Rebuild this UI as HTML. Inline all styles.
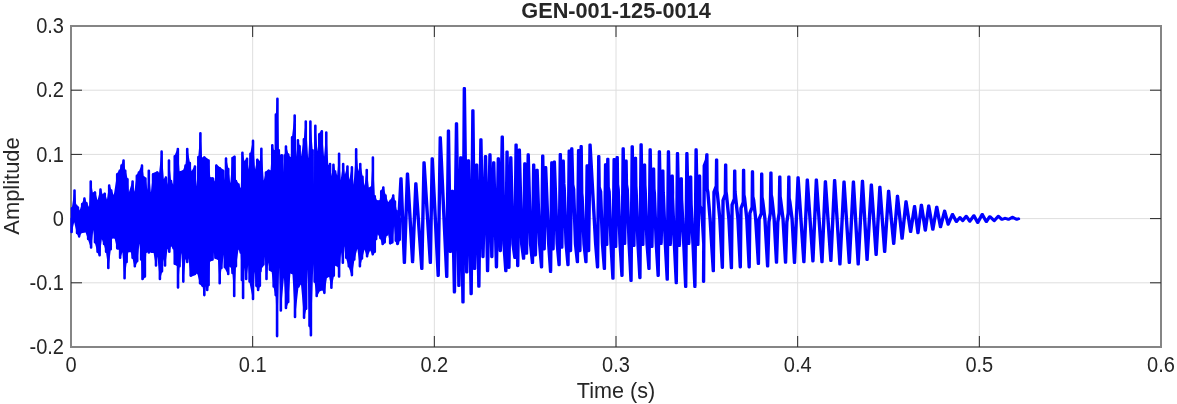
<!DOCTYPE html>
<html lang="en"><head><meta charset="utf-8"><title>GEN-001-125-0014</title>
<style>html,body{margin:0;padding:0;background:#fff;}body{width:1177px;height:404px;overflow:hidden;}svg{display:block;}text{font-family:"Liberation Sans",Arial,Helvetica,sans-serif;fill:#262626;}.tk{font-size:21.33px;}.lb{font-size:21.6px;}.tt{font-size:22.4px;font-weight:bold;}</style></head><body>
<svg width="1177" height="404" viewBox="0 0 1177 404">
<rect width="1177" height="404" fill="#fff"/>
<path d="M71.00 26.00V347.00M252.67 26.00V347.00M434.33 26.00V347.00M616.00 26.00V347.00M797.67 26.00V347.00M979.33 26.00V347.00M1161.00 26.00V347.00M71.00 347.00H1161.00M71.00 282.80H1161.00M71.00 218.60H1161.00M71.00 154.40H1161.00M71.00 90.20H1161.00M71.00 26.00H1161.00" stroke="#dedede" stroke-width="1" fill="none"/>
<rect x="71.00" y="26.00" width="1090.00" height="321.00" fill="none" stroke="#858585" stroke-width="2" shape-rendering="crispEdges"/>
<path d="M252.67 347.00v-11.00M252.67 26.00v11.00M434.33 347.00v-11.00M434.33 26.00v11.00M616.00 347.00v-11.00M616.00 26.00v11.00M797.67 347.00v-11.00M797.67 26.00v11.00M979.33 347.00v-11.00M979.33 26.00v11.00M71.00 282.80h11.00M1161.00 282.80h-11.00M71.00 218.60h11.00M1161.00 218.60h-11.00M71.00 154.40h11.00M1161.00 154.40h-11.00M71.00 90.20h11.00M1161.00 90.20h-11.00" stroke="#262626" stroke-width="1" fill="none"/>
<path d="M71.96 207.07 L74.52 189.14 L76.23 204.51 L77.93 206.22 L79.64 210.49 L82.20 202.80 L84.42 197.33 L86.47 201.95 L89.04 207.07 L90.74 180.26 L92.79 192.55 L95.01 191.36 L97.57 200.24 L100.48 188.28 L102.70 194.26 L104.75 192.55 L106.97 199.38 L109.19 184.35 L111.24 189.14 L113.80 195.11 L117.22 172.91 L119.78 169.50 L121.49 164.37 L123.54 159.25 L125.24 169.50 L127.46 178.04 L128.83 192.55 L132.59 180.26 L134.30 191.70 L136.86 174.62 L138.91 171.20 L141.98 164.37 L143.69 176.33 L145.40 177.18 L147.45 189.99 L148.81 169.50 L150.86 192.55 L153.08 172.91 L157.35 171.20 L159.06 172.91 L161.62 150.37 L163.84 178.89 L165.89 176.33 L167.60 184.87 L168.97 159.25 L171.02 179.74 L173.24 184.87 L174.77 154.98 L177.85 147.63 L179.56 171.20 L182.97 170.35 L185.53 164.37 L187.24 147.63 L189.80 161.81 L191.51 171.20 L194.93 165.23 L196.64 186.57 L198.34 155.83 L200.39 131.92 L202.10 157.54 L204.32 156.17 L208.59 159.25 L210.30 177.18 L212.86 177.18 L214.57 181.45 L216.28 164.37 L219.69 166.93 L223.11 169.50 L224.47 180.60 L226.01 157.20 L228.23 167.79 L230.28 183.16 L232.50 156.69 L234.55 155.49 L235.92 179.74 L238.48 183.16 L240.70 188.28 L242.41 151.56 L244.46 160.96 L247.02 157.54 L248.73 169.50 L250.44 152.42 L253.00 139.61 L255.05 169.50 L257.27 158.39 L259.83 160.96 L261.37 147.46 L263.76 180.60 L265.98 171.20 L268.54 169.50 L270.59 170.35 L272.30 144.05 L273.66 149.85 L274.86 158.39 L275.88 113.30 L277.42 97.42 L278.79 149.00 L280.50 154.98 L281.86 154.12 L283.06 172.06 L284.77 154.12 L285.96 145.24 L288.18 153.27 L289.89 156.69 L290.74 157.54 L292.11 136.02 L294.67 114.16 L296.38 156.69 L297.92 138.92 L299.62 144.90 L300.99 156.69 L303.89 138.07 L305.77 120.14 L308.16 158.39 L310.38 120.14 L312.60 149.00 L313.80 184.87 L315.34 124.41 L317.56 151.56 L319.27 132.95 L321.83 130.04 L324.05 156.69 L326.27 131.24 L328.32 165.23 L330.03 162.66 L331.39 176.33 L333.44 163.52 L335.15 170.35 L337.20 175.47 L339.08 152.42 L340.61 180.60 L343.18 162.66 L344.88 174.62 L347.45 165.23 L349.33 179.74 L351.89 166.08 L353.60 184.87 L356.16 147.98 L358.21 171.20 L360.26 162.66 L362.48 175.47 L364.53 185.72 L366.75 168.64 L368.80 187.43 L371.02 186.57 L372.89 156.17 L374.77 195.11 L376.99 200.24 L379.56 200.24 L381.26 189.99 L383.31 186.23 L385.53 194.26 L388.10 201.95 L390.66 199.38 L393.22 194.26 L394.93 200.24 L396.64 209.63 L398.00 216.46 L401.08 219.71 L399.71 241.06 L397.49 245.33 L395.78 241.91 L394.07 226.20 L392.37 243.62 L390.15 244.47 L388.10 234.23 L386.73 235.93 L384.68 243.62 L382.63 245.33 L380.41 239.35 L377.85 234.23 L376.14 240.20 L374.77 253.01 L372.72 255.57 L370.16 250.45 L367.09 257.62 L364.53 249.60 L361.96 259.84 L359.91 267.53 L357.35 248.74 L354.28 260.70 L351.89 276.41 L348.81 267.53 L346.25 258.99 L344.88 246.18 L342.84 264.11 L341.13 252.16 L339.08 277.78 L337.71 266.68 L335.15 265.82 L333.78 276.92 L331.39 289.05 L329.17 276.92 L326.95 277.78 L324.39 294.17 L322.34 290.42 L319.78 291.27 L316.70 297.25 L314.65 282.90 L313.29 264.11 L310.90 336.53 L309.53 327.14 L307.48 269.24 L306.11 310.06 L304.06 318.94 L300.99 284.61 L298.43 287.85 L295.01 318.26 L292.45 274.36 L290.40 273.51 L288.18 303.23 L285.96 309.20 L283.91 277.78 L280.84 311.77 L279.13 267.53 L277.08 337.39 L275.71 296.39 L273.66 287.85 L271.61 271.80 L269.91 270.95 L268.20 262.41 L266.49 280.34 L264.78 256.43 L263.42 265.82 L262.05 267.53 L260.51 272.65 L259.83 287.00 L258.12 291.27 L256.41 287.00 L254.71 271.80 L253.00 300.32 L249.58 282.90 L248.22 264.97 L246.17 280.34 L244.46 267.53 L243.09 299.30 L241.90 281.19 L240.70 253.87 L238.48 249.60 L235.92 267.53 L234.21 297.25 L232.50 274.36 L230.79 267.53 L229.60 246.18 L228.23 275.22 L224.82 268.38 L223.96 254.72 L221.40 269.24 L219.69 284.61 L217.98 259.84 L215.42 258.99 L213.71 252.16 L212.52 260.70 L209.96 261.55 L208.59 286.32 L207.22 291.27 L205.69 286.32 L204.32 296.39 L202.61 287.00 L200.05 284.61 L197.49 274.36 L196.12 258.99 L194.93 275.22 L190.66 276.92 L188.44 258.14 L187.24 263.26 L185.53 258.99 L183.31 282.90 L181.26 253.01 L179.56 267.53 L178.02 288.71 L176.99 265.82 L174.77 264.97 L173.58 249.60 L171.02 246.18 L169.31 253.01 L167.60 248.74 L165.04 266.68 L163.33 258.99 L161.96 272.65 L159.91 280.34 L157.35 256.43 L155.99 266.68 L153.60 253.01 L151.37 253.01 L150.18 237.64 L148.81 253.87 L147.45 243.62 L146.25 253.01 L144.88 277.78 L142.49 280.34 L141.13 260.70 L139.42 243.62 L137.20 262.41 L134.81 267.53 L132.59 258.99 L130.88 252.16 L128.32 252.16 L126.61 263.26 L124.56 279.49 L122.34 252.16 L120.12 258.99 L118.92 249.60 L117.22 249.60 L114.65 238.50 L112.09 238.50 L110.73 250.45 L108.33 269.24 L106.11 253.01 L104.06 245.33 L101.84 239.35 L99.62 256.43 L97.57 253.01 L95.01 243.62 L93.30 229.96 L91.08 248.74 L88.18 240.20 L85.62 232.52 L81.35 233.37 L79.13 237.64 L77.08 234.23 L74.18 222.27 L71.61 233.37Z" fill="#0000ff" stroke="none"/>
<path d="M71.96 218.60V208.37M74.52 218.60V190.44M76.23 218.60V205.81M77.93 218.60V207.52M82.20 218.60V204.10M84.42 218.60V198.63M86.47 218.60V203.25M90.74 218.60V181.56M95.01 218.60V192.66M100.48 218.60V189.58M104.75 218.60V193.85M109.19 218.60V185.65M111.24 218.60V190.44M117.22 218.60V174.21M119.78 218.60V170.80M121.49 218.60V165.67M123.54 218.60V160.55M125.24 218.60V170.80M127.46 218.60V179.34M132.59 218.60V181.56M136.86 218.60V175.92M138.91 218.60V172.50M141.98 218.60V165.67M143.69 218.60V177.63M145.40 218.60V178.48M148.81 218.60V170.80M153.08 218.60V174.21M157.35 218.60V172.50M161.62 218.60V151.67M165.89 218.60V177.63M168.97 218.60V160.55M171.02 218.60V181.04M174.77 218.60V156.28M177.85 218.60V148.93M182.97 218.60V171.65M185.53 218.60V165.67M187.24 218.60V148.93M189.80 218.60V163.11M194.93 218.60V166.53M198.34 218.60V157.13M200.39 218.60V133.22M204.32 218.60V157.47M208.59 218.60V160.55M210.30 218.60V178.48M212.86 218.60V178.48M216.28 218.60V165.67M219.69 218.60V168.23M223.11 218.60V170.80M226.01 218.60V158.50M228.23 218.60V169.09M232.50 218.60V157.99M234.55 218.60V156.79M235.92 218.60V181.04M238.48 218.60V184.46M242.41 218.60V152.86M247.02 218.60V158.84M250.44 218.60V153.72M253.00 218.60V140.91M257.27 218.60V159.69M261.37 218.60V148.76M265.98 218.60V172.50M268.54 218.60V170.80M272.30 218.60V145.35M273.66 218.60V151.15M275.88 218.60V114.60M277.42 218.60V98.72M278.79 218.60V150.30M281.86 218.60V155.42M284.77 218.60V155.42M285.96 218.60V146.54M288.18 218.60V154.57M289.89 218.60V157.99M292.11 218.60V137.32M294.67 218.60V115.46M297.92 218.60V140.22M299.62 218.60V146.20M303.89 218.60V139.37M305.77 218.60V121.44M310.38 218.60V121.44M312.60 218.60V150.30M315.34 218.60V125.71M319.27 218.60V134.25M321.83 218.60V131.34M326.27 218.60V132.54M330.03 218.60V163.96M333.44 218.60V164.82M335.15 218.60V171.65M339.08 218.60V153.72M343.18 218.60V163.96M347.45 218.60V166.53M351.89 218.60V167.38M356.16 218.60V149.28M360.26 218.60V163.96M362.48 218.60V176.77M366.75 218.60V169.94M371.02 218.60V187.87M372.89 218.60V157.47M374.77 218.60V196.41M376.99 218.60V201.54M379.56 218.60V201.54M381.26 218.60V191.29M383.31 218.60V187.53M385.53 218.60V195.56M390.66 218.60V200.68M393.22 218.60V195.56M394.93 218.60V201.54M396.64 218.60V210.93M398.00 218.60V217.76M71.61 218.60V232.07M77.08 218.60V232.93M79.13 218.60V236.34M81.35 218.60V232.07M88.18 218.60V238.90M91.08 218.60V247.44M95.01 218.60V242.32M97.57 218.60V251.71M99.62 218.60V255.13M104.06 218.60V244.03M106.11 218.60V251.71M108.33 218.60V267.94M110.73 218.60V249.15M112.09 218.60V237.20M114.65 218.60V237.20M117.22 218.60V248.30M118.92 218.60V248.30M120.12 218.60V257.69M124.56 218.60V278.19M126.61 218.60V261.96M128.32 218.60V250.86M130.88 218.60V250.86M132.59 218.60V257.69M134.81 218.60V266.23M137.20 218.60V261.11M141.13 218.60V259.40M142.49 218.60V279.04M144.88 218.60V276.48M146.25 218.60V251.71M148.81 218.60V252.57M151.37 218.60V251.71M153.60 218.60V251.71M155.99 218.60V265.38M159.91 218.60V279.04M161.96 218.60V271.35M165.04 218.60V265.38M169.31 218.60V251.71M173.58 218.60V248.30M174.77 218.60V263.67M176.99 218.60V264.52M178.02 218.60V287.41M179.56 218.60V266.23M183.31 218.60V281.60M187.24 218.60V261.96M190.66 218.60V275.62M194.93 218.60V273.92M197.49 218.60V273.06M200.05 218.60V283.31M202.61 218.60V285.70M204.32 218.60V295.09M207.22 218.60V289.97M208.59 218.60V285.02M209.96 218.60V260.25M212.52 218.60V259.40M215.42 218.60V257.69M217.98 218.60V258.54M219.69 218.60V283.31M221.40 218.60V267.94M224.82 218.60V267.08M228.23 218.60V273.92M230.79 218.60V266.23M232.50 218.60V273.06M234.21 218.60V295.95M235.92 218.60V266.23M240.70 218.60V252.57M241.90 218.60V279.89M243.09 218.60V298.00M246.17 218.60V279.04M249.58 218.60V281.60M253.00 218.60V299.02M256.41 218.60V285.70M258.12 218.60V289.97M259.83 218.60V285.70M260.51 218.60V271.35M262.05 218.60V266.23M263.42 218.60V264.52M266.49 218.60V279.04M269.91 218.60V269.65M271.61 218.60V270.50M273.66 218.60V286.55M275.71 218.60V295.09M277.08 218.60V336.09M280.84 218.60V310.47M285.96 218.60V307.90M288.18 218.60V301.93M292.45 218.60V273.06M295.01 218.60V316.96M298.43 218.60V286.55M304.06 218.60V317.64M306.11 218.60V308.76M309.53 218.60V325.84M310.90 218.60V335.23M314.65 218.60V281.60M316.70 218.60V295.95M319.78 218.60V289.97M324.39 218.60V292.87M326.95 218.60V276.48M331.39 218.60V287.75M333.78 218.60V275.62M337.71 218.60V265.38M339.08 218.60V276.48M342.84 218.60V262.81M346.25 218.60V257.69M348.81 218.60V266.23M351.89 218.60V275.11M354.28 218.60V259.40M359.91 218.60V266.23M361.96 218.60V258.54M367.09 218.60V256.32M372.72 218.60V254.27M374.77 218.60V251.71M376.14 218.60V238.90M380.41 218.60V238.05M382.63 218.60V244.03M384.68 218.60V242.32M386.73 218.60V234.63M390.15 218.60V243.17M392.37 218.60V242.32M395.78 218.60V240.61M397.49 218.60V244.03M399.71 218.60V239.76" fill="none" stroke="#0000ff" stroke-width="2.6" stroke-linecap="round"/>
<path d="M397.21 243.12 L400.63 178.53 L404.04 262.76 L407.12 173.75 L412.24 261.91 L415.49 183.65 L421.46 268.74 L423.69 162.65 L430.00 262.76 L431.88 158.55 L437.86 275.57 L439.91 137.59 L446.40 276.77 L448.11 130.76 L449.99 251.66 L452.04 191.00 L454.09 292.14 L456.14 123.58 L458.53 285.65 L460.41 157.52 L462.63 302.22 L463.99 88.40 L466.38 272.16 L468.09 160.60 L470.82 293.85 L472.53 110.60 L474.24 268.74 L476.29 164.87 L478.51 286.50 L480.56 139.64 L482.61 256.79 L485.17 156.33 L487.22 270.96 L489.61 154.67 L491.49 256.79 L493.37 162.65 L496.10 267.03 L497.98 158.55 L499.94 250.81 L501.91 136.73 L503.59 244.00 L505.49 270.96 L506.69 151.76 L508.57 267.55 L510.45 157.52 L512.64 244.00 L514.54 257.64 L515.74 144.76 L517.37 265.84 L518.99 149.89 L521.35 244.00 L523.25 258.49 L524.45 163.67 L526.16 253.37 L527.87 154.67 L530.23 244.00 L532.13 262.76 L533.33 164.87 L535.04 255.08 L536.75 169.99 L539.29 244.00 L541.19 267.03 L542.39 155.82 L543.84 249.10 L545.29 167.43 L548.34 244.00 L550.24 271.65 L551.44 162.65 L552.72 249.10 L554.00 161.96 L556.88 244.00 L558.78 264.81 L559.98 154.33 L561.43 247.39 L562.88 160.94 L563.44 183.65 L563.86 188.30 L565.76 244.00 L567.66 264.81 L568.86 150.91 L570.14 250.81 L571.42 148.69 L572.33 184.51 L573.25 189.16 L575.15 244.00 L577.05 261.91 L578.25 150.40 L579.53 250.81 L580.82 146.47 L581.38 193.05 L581.79 197.70 L583.69 244.00 L585.59 261.91 L586.79 165.72 L588.25 250.81 L589.70 144.76 L595.31 244.00 L597.21 267.03 L598.41 156.33 L598.80 187.07 L600.24 191.72 L602.14 244.00 L604.04 268.74 L605.24 164.53 L606.35 244.65 L607.46 159.06 L607.81 187.07 L608.78 191.72 L610.68 244.00 L612.58 278.48 L613.78 159.40 L615.32 246.65 L616.85 157.35 L617.20 184.51 L617.83 189.16 L619.73 244.00 L621.63 275.57 L622.83 148.64 L624.28 243.65 L625.73 160.94 L626.08 184.51 L626.88 189.16 L628.78 244.00 L630.68 280.70 L631.88 146.59 L633.51 245.65 L635.13 158.04 L635.48 186.22 L635.76 190.87 L637.66 244.00 L639.56 277.79 L640.76 144.54 L642.47 244.65 L644.18 164.87 L644.53 185.36 L644.82 190.01 L646.72 244.00 L648.62 268.74 L649.82 149.67 L651.52 246.65 L653.23 168.80 L653.58 188.78 L654.04 193.43 L655.94 244.00 L657.84 275.57 L659.04 151.55 L660.75 243.65 L662.46 170.85 L662.81 192.19 L663.09 196.84 L664.99 244.00 L666.89 279.50 L668.09 151.72 L669.97 244.65 L671.85 175.97 L672.20 192.19 L672.14 196.84 L674.04 244.00 L675.94 282.92 L677.14 153.42 L679.02 245.65 L680.90 178.53 L681.25 199.88 L681.54 204.53 L683.44 244.00 L685.34 286.68 L686.54 153.42 L688.42 243.65 L690.29 176.82 L690.64 199.88 L690.76 204.53 L692.66 244.00 L694.56 286.68 L695.76 149.67 L697.47 244.65 L699.18 175.97 L699.53 205.86 L701.52 210.51 L703.42 244.00 L703.22 281.55 L703.92 165.70 L706.22 159.70 L706.52 154.62 L706.82 188.84 L707.51 192.34 L709.72 218.60 L712.96 270.96 L713.66 192.10 L715.96 186.10 L716.26 159.74 L716.56 190.55 L717.08 194.05 L719.46 218.60 L722.01 267.55 L722.71 200.20 L725.01 194.20 L725.31 164.87 L725.61 191.41 L726.13 194.91 L728.51 218.60 L731.06 267.89 L731.76 204.80 L734.06 198.80 L734.36 170.85 L734.66 191.41 L735.01 194.91 L737.56 218.60 L739.94 267.03 L740.64 208.20 L742.94 202.20 L743.24 169.99 L743.54 194.82 L744.23 198.32 L746.44 218.60 L748.82 267.03 L749.52 213.30 L751.82 207.30 L752.12 171.70 L752.42 196.53 L753.28 200.03 L755.32 218.60 L758.05 263.62 L758.75 219.30 L761.05 213.30 L761.35 173.92 L761.65 197.38 L762.34 200.88 L764.55 218.60 L767.27 266.18 L768.57 222.00 L769.97 213.00 L770.57 172.89 L770.87 194.82 L771.56 198.32 L773.77 218.60 L776.15 262.42 L777.45 222.00 L778.85 213.00 L779.45 176.82 L779.75 196.53 L780.27 200.03 L782.65 218.60 L785.20 262.42 L786.50 222.00 L787.90 213.00 L788.50 176.82 L788.80 198.24 L789.49 201.74 L791.70 218.60 L794.14 262.76 L797.72 177.68 L803.53 261.91 L806.95 179.73 L812.58 261.06 L816.00 179.73 L821.64 261.91 L825.05 181.61 L830.52 260.71 L834.27 180.24 L839.57 264.13 L843.67 181.95 L848.96 262.76 L853.06 181.95 L857.84 264.13 L862.11 181.09 L866.73 259.69 L871.00 184.85 L875.78 254.57 L879.53 187.07 L884.32 251.66 L888.25 191.00 L893.37 243.64 L897.13 196.12 L901.74 238.51 L905.67 201.59 L910.28 231.68 L914.21 206.37 L917.62 232.88 L921.04 205.00 L924.97 230.31 L928.38 205.86 L932.48 229.46 L936.41 207.05 L940.17 226.90 L944.27 210.98 L947.85 224.34 L952.15 214.30 L956.05 221.70 L959.55 217.50 L962.35 220.70 L965.95 216.20 L969.45 221.30 L973.55 215.60 L977.35 222.60 L981.85 214.30 L985.95 221.70 L989.45 216.60 L993.95 220.70 L998.05 216.20 L1001.55 219.40 L1004.75 218.20 L1008.25 219.40 L1012.15 217.20 L1016.25 219.40 L1018.15 218.80 M397.91 243.12 L401.33 178.53 L404.74 262.76 L407.82 173.75 L412.94 261.91 L416.19 183.65 L422.16 268.74 L424.39 162.65 L430.70 262.76 L432.58 158.55 L438.56 275.57 L440.61 137.59 L447.10 276.77 L448.81 130.76 L450.69 251.66 L452.74 191.00 L454.79 292.14 L456.84 123.58 L459.23 285.65 L461.11 157.52 L463.33 302.22 L464.69 88.40 L467.08 272.16 L468.79 160.60 L471.52 293.85 L473.23 110.60 L474.94 268.74 L476.99 164.87 L479.21 286.50 L481.26 139.64 L483.31 256.79 L485.87 156.33 L487.92 270.96 L490.31 154.67 L492.19 256.79 L494.07 162.65 L496.80 267.03 L498.68 158.55 L500.64 250.81 L502.61 136.73 L504.29 244.00 L506.19 270.96 L507.39 151.76 L509.27 267.55 L511.15 157.52 L513.34 244.00 L515.24 257.64 L516.44 144.76 L518.07 265.84 L519.69 149.89 L522.05 244.00 L523.95 258.49 L525.15 163.67 L526.86 253.37 L528.57 154.67 L530.93 244.00 L532.83 262.76 L534.03 164.87 L535.74 255.08 L537.45 169.99 L539.99 244.00 L541.89 267.03 L543.09 155.82 L544.54 249.10 L545.99 167.43 L549.04 244.00 L550.94 271.65 L552.14 162.65 L553.42 249.10 L554.70 161.96 L557.58 244.00 L559.48 264.81 L560.68 154.33 L562.13 247.39 L563.58 160.94 L564.14 183.65 L564.56 188.30 L566.46 244.00 L568.36 264.81 L569.56 150.91 L570.84 250.81 L572.12 148.69 L573.03 184.51 L573.95 189.16 L575.85 244.00 L577.75 261.91 L578.95 150.40 L580.23 250.81 L581.52 146.47 L582.08 193.05 L582.49 197.70 L584.39 244.00 L586.29 261.91 L587.49 165.72 L588.95 250.81 L590.40 144.76 L596.01 244.00 L597.91 267.03 L599.11 156.33 L599.50 187.07 L600.94 191.72 L602.84 244.00 L604.74 268.74 L605.94 164.53 L607.05 244.65 L608.16 159.06 L608.51 187.07 L609.48 191.72 L611.38 244.00 L613.28 278.48 L614.48 159.40 L616.02 246.65 L617.55 157.35 L617.90 184.51 L618.53 189.16 L620.43 244.00 L622.33 275.57 L623.53 148.64 L624.98 243.65 L626.43 160.94 L626.78 184.51 L627.58 189.16 L629.48 244.00 L631.38 280.70 L632.58 146.59 L634.21 245.65 L635.83 158.04 L636.18 186.22 L636.46 190.87 L638.36 244.00 L640.26 277.79 L641.46 144.54 L643.17 244.65 L644.88 164.87 L645.23 185.36 L645.52 190.01 L647.42 244.00 L649.32 268.74 L650.52 149.67 L652.22 246.65 L653.93 168.80 L654.28 188.78 L654.74 193.43 L656.64 244.00 L658.54 275.57 L659.74 151.55 L661.45 243.65 L663.16 170.85 L663.51 192.19 L663.79 196.84 L665.69 244.00 L667.59 279.50 L668.79 151.72 L670.67 244.65 L672.55 175.97 L672.90 192.19 L672.84 196.84 L674.74 244.00 L676.64 282.92 L677.84 153.42 L679.72 245.65 L681.60 178.53 L681.95 199.88 L682.24 204.53 L684.14 244.00 L686.04 286.68 L687.24 153.42 L689.12 243.65 L690.99 176.82 L691.34 199.88 L691.46 204.53 L693.36 244.00 L695.26 286.68 L696.46 149.67 L698.17 244.65 L699.88 175.97 L700.23 205.86 L702.22 210.51 L704.12 244.00 L703.92 281.55 L704.62 165.70 L706.92 159.70 L707.22 154.62 L707.52 188.84 L708.21 192.34 L710.42 218.60 L713.66 270.96 L714.36 192.10 L716.66 186.10 L716.96 159.74 L717.26 190.55 L717.78 194.05 L720.16 218.60 L722.71 267.55 L723.41 200.20 L725.71 194.20 L726.01 164.87 L726.31 191.41 L726.83 194.91 L729.21 218.60 L731.76 267.89 L732.46 204.80 L734.76 198.80 L735.06 170.85 L735.36 191.41 L735.71 194.91 L738.26 218.60 L740.64 267.03 L741.34 208.20 L743.64 202.20 L743.94 169.99 L744.24 194.82 L744.93 198.32 L747.14 218.60 L749.52 267.03 L750.22 213.30 L752.52 207.30 L752.82 171.70 L753.12 196.53 L753.98 200.03 L756.02 218.60 L758.75 263.62 L759.45 219.30 L761.75 213.30 L762.05 173.92 L762.35 197.38 L763.04 200.88 L765.25 218.60 L767.97 266.18 L769.27 222.00 L770.67 213.00 L771.27 172.89 L771.57 194.82 L772.26 198.32 L774.47 218.60 L776.85 262.42 L778.15 222.00 L779.55 213.00 L780.15 176.82 L780.45 196.53 L780.97 200.03 L783.35 218.60 L785.90 262.42 L787.20 222.00 L788.60 213.00 L789.20 176.82 L789.50 198.24 L790.19 201.74 L792.40 218.60 L794.84 262.76 L798.42 177.68 L804.23 261.91 L807.65 179.73 L813.28 261.06 L816.70 179.73 L822.34 261.91 L825.75 181.61 L831.22 260.71 L834.97 180.24 L840.27 264.13 L844.37 181.95 L849.66 262.76 L853.76 181.95 L858.54 264.13 L862.81 181.09 L867.43 259.69 L871.70 184.85 L876.48 254.57 L880.23 187.07 L885.02 251.66 L888.95 191.00 L894.07 243.64 L897.83 196.12 L902.44 238.51 L906.37 201.59 L910.98 231.68 L914.91 206.37 L918.32 232.88 L921.74 205.00 L925.67 230.31 L929.08 205.86 L933.18 229.46 L937.11 207.05 L940.87 226.90 L944.97 210.98 L948.55 224.34 L952.85 214.30 L956.75 221.70 L960.25 217.50 L963.05 220.70 L966.65 216.20 L970.15 221.30 L974.25 215.60 L978.05 222.60 L982.55 214.30 L986.65 221.70 L990.15 216.60 L994.65 220.70 L998.75 216.20 L1002.25 219.40 L1005.45 218.20 L1008.95 219.40 L1012.85 217.20 L1016.95 219.40 L1018.85 218.80" fill="none" stroke="#0000ff" stroke-width="2.7" stroke-linejoin="round" stroke-linecap="round"/>
<text class="tk" transform="translate(71.00 372.00) scale(0.940 1)" text-anchor="middle">0</text>
<text class="tk" transform="translate(252.67 372.00) scale(0.940 1)" text-anchor="middle">0.1</text>
<text class="tk" transform="translate(434.33 372.00) scale(0.940 1)" text-anchor="middle">0.2</text>
<text class="tk" transform="translate(616.00 372.00) scale(0.940 1)" text-anchor="middle">0.3</text>
<text class="tk" transform="translate(797.67 372.00) scale(0.940 1)" text-anchor="middle">0.4</text>
<text class="tk" transform="translate(979.33 372.00) scale(0.940 1)" text-anchor="middle">0.5</text>
<text class="tk" transform="translate(1161.00 372.00) scale(0.940 1)" text-anchor="middle">0.6</text>
<text class="tk" transform="translate(64.00 354.20) scale(0.940 1)" text-anchor="end">-0.2</text>
<text class="tk" transform="translate(64.00 290.00) scale(0.940 1)" text-anchor="end">-0.1</text>
<text class="tk" transform="translate(64.00 225.80) scale(0.940 1)" text-anchor="end">0</text>
<text class="tk" transform="translate(64.00 161.60) scale(0.940 1)" text-anchor="end">0.1</text>
<text class="tk" transform="translate(64.00 97.40) scale(0.940 1)" text-anchor="end">0.2</text>
<text class="tk" transform="translate(64.00 33.20) scale(0.940 1)" text-anchor="end">0.3</text>
<text class="lb" transform="translate(616.00 397.80) scale(1.000 1)" text-anchor="middle">Time (s)</text>
<text class="lb" transform="translate(19.00 186.00) rotate(-90) scale(1.015 1)" text-anchor="middle">Amplitude</text>
<text class="tt" transform="translate(616.00 18.20) scale(0.970 1)" text-anchor="middle">GEN-001-125-0014</text>
</svg></body></html>
